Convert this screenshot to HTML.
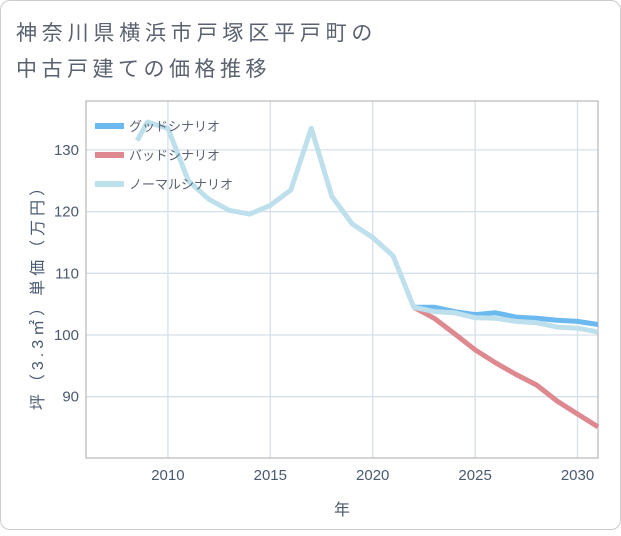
<!DOCTYPE html>
<html><head><meta charset="utf-8"><style>
body{margin:0;background:#fff;font-family:"Liberation Sans","Noto Sans CJK JP",sans-serif;}
#card{position:absolute;left:0;top:0;width:619px;height:528px;border:1px solid #ccc;border-radius:10px;background:#fff;}
</style></head><body>
<div id="card">
<svg id="chart" width="621" height="530">
<text x="15" y="39" font-size="21" letter-spacing="4.8" fill="#5a6270" font-family="Liberation Sans,Noto Sans CJK JP,sans-serif">神奈川県横浜市戸塚区平戸町の</text>
<text x="15" y="75" font-size="21" letter-spacing="4.5" fill="#5a6270" font-family="Liberation Sans,Noto Sans CJK JP,sans-serif">中古戸建ての価格推移</text>
<g id="grid"></g><g id="axes"></g><g id="series"></g><g id="legend"></g>
<text x="341" y="514" font-size="16" fill="#4a5a70" text-anchor="middle" font-family="Liberation Sans,Noto Sans CJK JP,sans-serif">年</text>
<text transform="translate(42,292) rotate(-90)" font-size="16" letter-spacing="4" fill="#4a5a70" text-anchor="middle" font-family="Liberation Sans,Noto Sans CJK JP,sans-serif">坪（3.3㎡）単価（万円）</text>
</svg></div>
<script>
const xTicks=[2010,2015,2020,2025,2030];
const yTicks=[90,100,110,120,130];
const normalYears=[2008.5,2009,2010,2011,2012,2013,2014,2015,2016,2017,2018,2019,2020,2021,2022,2023,2024,2025,2026,2027,2028,2029,2030,2031];
const normalVals=[131.5,134.5,133.5,125,122,120.2,119.6,121,123.5,133.5,122.5,118,115.8,112.8,104.5,103.8,103.6,102.8,102.7,102.2,102,101.3,101.1,100.5];
const futureYears=[2022,2023,2024,2025,2026,2027,2028,2029,2030,2031];
const goodVals=[104.5,104.5,103.8,103.3,103.6,102.9,102.7,102.4,102.2,101.7];
const badVals=[104.5,102.7,100.2,97.6,95.5,93.6,91.9,89.3,87.2,85.1];
const L=85,R=597,T=100,B=457,X0=2006,X1=2031;
const xs=v=>L+(v-X0)/(X1-X0)*(R-L);
const ys=v=>334-(v-100)*6.17;
const NS='http://www.w3.org/2000/svg';
function mk(t,a,p){const e=document.createElementNS(NS,t);for(const k in a)e.setAttribute(k,a[k]);p.appendChild(e);return e;}
const grid=document.getElementById('grid'),axes=document.getElementById('axes'),series=document.getElementById('series'),legend=document.getElementById('legend');
xTicks.forEach(t=>{const l=mk('line',{x1:xs(t),x2:xs(t),y1:T,y2:B,stroke:'#d5e0ea','stroke-width':1.3},grid);

const tx=mk('text',{x:xs(t),y:479,'font-size':15,fill:'#4a5a70','text-anchor':'middle'},axes);tx.textContent=t;
});
yTicks.forEach(t=>{const l=mk('line',{x1:L,x2:R,y1:ys(t),y2:ys(t),stroke:'#d5e0ea','stroke-width':1.3},grid);

const tx=mk('text',{x:78,y:ys(t)+5,'font-size':15,fill:'#4a5a70','text-anchor':'end'},axes);tx.textContent=t;
});
const fr=mk('rect',{x:L,y:T,width:R-L,height:B-T,fill:'none',stroke:'#aaa','stroke-width':1},axes);

function line(years,vals,color,name){const d=years.map((y,i)=>(i?'L':'M')+xs(y).toFixed(1)+','+ys(vals[i]).toFixed(1)).join('');
const p=mk('path',{d:d,fill:'none',stroke:color,'stroke-width':5,'stroke-linejoin':'round'},series);
}
line(futureYears,badVals,'#de8990','bad-scenario-line');
line(futureYears,goodVals,'#6bb9ee','good-scenario-line');
line(normalYears,normalVals,'#bde0ec','normal-scenario-line');
[['グッドシナリオ','#6bb9ee',125],['バッドシナリオ','#de8990',154],['ノーマルシナリオ','#bde0ec',183]].forEach(([n,c,y])=>{
const g=mk('g',{},legend);
mk('rect',{x:94,y:y-3,width:29,height:6,fill:c},g);
const t=mk('text',{x:128,y:y+5,'font-size':13,fill:'#5a6270'},g);t.textContent=n;});
</script></body></html>
